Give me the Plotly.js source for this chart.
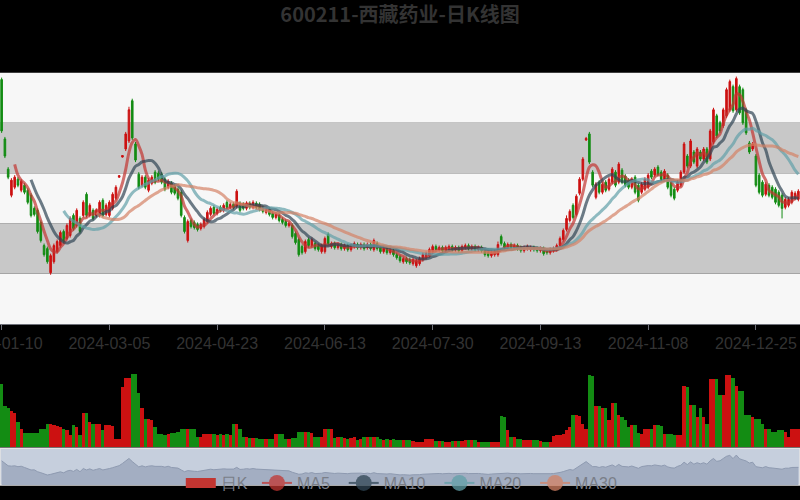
<!DOCTYPE html>
<html><head><meta charset="utf-8">
<script src="https://cdn.plot.ly/plotly-3.0.1.min.js"></script>
<style>html,body{margin:0;padding:0;background:#000;}#chart{width:800px;height:500px;}</style>
</head><body><div id="chart"></div>
<script>
const title = '600211-西藏药业-日K线图';
const tickLabels = ['2024-01-10','2024-03-05','2024-04-23','2024-06-13','2024-07-30','2024-09-13','2024-11-08','2024-12-25'];
const seriesNames = ['日K','MA5','MA10','MA20','MA30'];
const maDays = [5,10,20,30];

const open = [
34.3,28.4,25.4,22.8,23.6,24.4,23.3,23.8,23.3,22.8,
21.5,21.3,20.1,17.8,17.5,15.1,16.2,17.2,17.8,19.2,
18.5,18.8,20.8,19.8,20.5,20.8,22.9,20.8,21.3,20.8,
20.8,22.3,20.9,20.8,21.5,22.5,24.6,26.6,27.4,28.2,
32.2,27.9,24.9,23.8,24.6,23.3,24.0,25.1,25.0,24.9,
24.4,23.6,24.0,23.7,23.4,23.1,20.6,18.3,20.3,20.1,
19.9,19.5,19.7,20.2,20.9,21.6,21.0,21.6,21.3,22.1,
21.6,21.9,21.7,22.0,21.9,21.5,22.0,21.6,22.0,21.9,
21.6,21.1,21.4,21.0,20.6,20.8,20.4,20.2,19.8,19.8,
19.0,18.4,17.7,17.2,18.4,17.8,18.0,17.8,17.2,17.2,
18.9,17.7,18.0,17.6,17.9,17.5,17.8,17.4,17.7,17.9,
17.6,17.9,17.6,17.9,17.4,18.0,17.6,17.2,17.5,17.1,
17.3,16.9,16.7,16.2,16.5,16.4,16.0,15.8,16.0,16.4,
16.6,16.8,17.2,17.7,17.4,17.6,17.3,17.5,17.7,17.4,
17.6,17.3,17.6,17.8,17.5,17.7,17.4,17.6,17.3,17.1,
16.8,16.9,16.9,18.7,18.0,17.6,17.9,17.6,17.8,17.6,
17.3,17.5,17.4,17.6,17.5,17.3,17.5,17.3,17.1,17.3,
17.4,17.8,18.4,19.4,20.3,21.8,20.9,23.0,24.4,28.3,
28.9,25.1,22.6,24.1,23.1,24.1,23.4,24.1,25.1,24.1,
25.3,24.7,24.3,23.6,24.6,23.8,23.1,23.4,23.6,25.2,
24.8,25.6,25.1,24.4,24.8,24.1,23.4,23.3,23.8,25.1,
26.7,25.7,27.1,25.7,27.1,26.4,27.4,26.4,28.1,30.7,
30.0,29.7,30.7,31.3,33.6,31.3,33.6,33.3,31.3,28.0,
27.4,26.7,24.8,24.1,22.9,23.8,23.6,23.4,23.1,22.8,
21.6,21.8,22.1,22.5,22.4];

const close = [
29.2,26.7,24.6,24.3,24.6,23.8,24.2,23.1,22.1,20.8,
20.9,19.2,18.3,16.9,16.2,16.8,17.8,18.2,19.1,18.2,
19.8,20.5,19.5,21.3,19.2,22.1,20.8,21.8,20.5,21.3,
22.1,20.8,21.8,22.1,22.9,23.6,24.75,26.75,28.9,31.3,
28.5,26.3,23.6,24.6,23.6,24.3,24.6,24.1,24.4,24.1,
23.4,24.2,23.1,23.0,22.5,20.8,19.2,20.2,19.7,19.6,
19.4,19.9,20.4,21.1,21.5,21.0,21.4,21.3,21.8,21.6,
21.9,21.6,23.2,21.3,21.5,22.0,21.6,22.1,21.6,21.4,
21.2,21.4,20.9,20.6,20.9,20.3,20.1,19.8,20.0,18.7,
18.1,16.9,17.1,18.2,17.8,18.4,17.5,17.4,17.8,18.5,
18.0,18.0,17.6,17.9,17.5,17.8,17.4,17.8,18.0,17.6,
17.9,17.5,17.9,17.5,18.3,17.5,17.2,17.5,17.1,17.4,
16.9,16.6,16.3,16.5,16.2,16.1,16.4,16.3,16.5,16.9,
17.0,17.4,17.7,17.4,17.6,17.3,17.6,17.7,17.4,17.6,
17.3,17.7,17.8,17.5,17.7,17.4,17.6,17.3,16.9,16.8,
17.1,17.2,17.9,18.0,17.6,17.9,17.6,17.8,17.5,17.3,
17.6,17.7,17.6,17.4,17.3,17.5,17.0,17.1,17.4,17.5,
17.8,18.5,19.3,20.5,21.2,20.6,22.7,24.4,26.4,28.45,
26.1,23.8,23.9,23.1,23.9,23.3,24.4,25.4,23.8,25.9,
24.1,23.8,23.6,24.4,23.1,22.3,23.9,24.4,24.8,24.6,
25.4,24.9,24.4,25.2,23.6,22.8,22.5,24.1,25.1,27.9,
25.7,28.2,26.1,27.4,26.4,27.4,26.1,29.2,31.3,28.7,
29.2,31.3,33.3,34.1,31.2,34.4,31.0,30.0,29.0,27.1,
27.9,23.8,23.1,22.8,23.9,22.8,22.6,22.1,21.8,21.5,
22.4,22.4,23.1,23.0,23.2];

const high = [
34.5,28.6,25.6,24.5,24.8,24.6,24.4,24.0,23.5,23.0,
21.7,21.5,20.3,18.0,17.7,17.0,18.0,18.4,19.3,19.4,
20.0,20.7,21.0,21.5,20.7,22.3,23.1,22.0,21.5,21.5,
22.3,22.5,22.0,22.3,23.1,23.8,24.8,26.8,29.1,31.6,
32.4,28.1,25.1,24.8,24.8,24.5,24.8,25.3,25.2,25.1,
24.6,24.4,24.2,23.9,23.6,23.3,20.8,20.4,20.5,20.3,
20.1,20.1,20.6,21.3,21.7,21.8,21.6,21.8,22.0,22.3,
22.1,22.1,23.4,22.2,22.1,22.2,22.2,22.3,22.2,22.1,
21.8,21.6,21.6,21.2,21.1,21.0,20.6,20.4,20.2,20.0,
19.2,18.6,17.9,18.4,18.6,18.6,18.2,18.0,18.0,18.7,
19.1,18.2,18.2,18.1,18.1,18.0,18.0,18.0,18.2,18.1,
18.1,18.1,18.1,18.1,18.5,18.2,17.8,17.7,17.7,17.6,
17.5,17.1,16.9,16.7,16.7,16.6,16.6,16.5,16.7,17.1,
17.2,17.6,17.9,17.9,17.8,17.8,17.8,17.9,17.9,17.8,
17.8,17.9,18.0,18.0,17.9,17.9,17.8,17.8,17.5,17.3,
17.3,17.4,18.2,18.9,18.2,18.1,18.1,18.0,18.0,17.8,
17.8,17.9,17.8,17.8,17.7,17.7,17.7,17.5,17.6,17.7,
18.0,18.7,19.5,20.8,21.4,22.0,22.9,24.6,26.6,28.6,
29.1,25.3,24.1,24.3,24.1,24.3,24.6,25.6,25.3,26.1,
25.5,24.9,24.5,24.6,24.8,24.0,24.1,24.6,25.0,25.4,
25.6,25.8,25.3,25.4,25.0,24.3,23.6,24.3,25.3,28.1,
26.9,28.4,27.3,27.6,27.3,27.6,27.6,29.4,31.5,30.9,
30.2,31.5,33.5,34.3,33.8,34.6,33.8,33.5,31.5,28.2,
28.1,26.9,25.0,24.3,24.1,24.0,23.8,23.6,23.3,23.0,
22.6,22.6,23.3,23.2,23.4];

const low = [
29.0,26.5,24.4,22.6,23.4,23.6,23.1,22.9,21.9,20.6,
20.7,19.0,18.1,16.7,16.0,14.9,16.0,17.0,17.6,18.0,
18.3,18.6,19.3,19.6,19.0,20.6,20.6,20.6,20.3,20.6,
20.6,20.6,20.7,20.6,21.3,22.3,24.55,26.55,27.2,28.0,
28.3,26.1,23.4,23.6,23.4,23.1,23.8,23.9,24.2,23.9,
23.2,23.4,22.9,22.8,22.3,20.6,19.0,18.1,19.5,19.4,
19.2,19.3,19.5,20.0,20.7,20.8,20.8,21.1,21.1,21.4,
21.4,21.4,21.5,21.1,21.3,21.3,21.4,21.4,21.4,21.2,
21.0,20.9,20.7,20.4,20.4,20.1,19.9,19.6,19.6,18.5,
17.9,16.7,16.9,17.0,17.6,17.6,17.3,17.2,17.0,17.0,
17.8,17.5,17.4,17.4,17.3,17.3,17.2,17.2,17.5,17.4,
17.4,17.3,17.4,17.3,17.2,17.3,17.0,17.0,16.9,16.9,
16.7,16.4,16.1,16.0,16.0,15.9,15.8,15.6,15.8,16.2,
16.4,16.6,17.0,17.2,17.2,17.1,17.1,17.3,17.2,17.2,
17.1,17.1,17.4,17.3,17.3,17.2,17.2,17.1,16.7,16.6,
16.6,16.7,16.7,17.8,17.4,17.4,17.4,17.4,17.3,17.1,
17.1,17.3,17.2,17.2,17.1,17.1,16.8,16.9,16.9,17.1,
17.2,17.6,18.2,19.2,20.1,20.4,20.7,22.8,24.2,28.2,
25.9,23.6,22.4,22.9,22.9,23.1,23.2,23.9,23.6,23.9,
23.9,23.6,23.4,23.4,22.9,22.1,22.9,23.2,23.4,24.4,
24.6,24.7,24.2,24.2,23.4,22.6,22.3,23.1,23.6,24.9,
25.5,25.5,25.9,25.5,26.2,26.2,25.9,26.2,27.9,28.5,
29.0,29.5,30.5,31.1,31.0,31.1,30.8,29.8,28.8,26.9,
27.2,23.6,22.9,22.6,22.7,22.6,22.4,21.9,21.6,20.5,
21.4,21.6,21.9,22.3,22.2];

const volume = [
64,42,40,37,35,25,18,14,14,14,
14,14,18,18,23,23,22,21,20,18,
17,12,22,20,12,35,35,25,23,23,
23,17,22,22,21,8,8,61,70,70,
74,74,55,40,28,28,27,20,13,13,
12,13,14,14,15,18,18,18,18,18,
10,10,13,13,13,13,12,13,12,13,
12,23,23,18,10,10,9,9,9,8,
8,8,8,8,13,13,13,8,8,9,
9,15,15,15,15,14,10,10,10,18,
18,18,9,10,10,9,8,9,10,7,
8,10,10,10,10,10,8,7,8,7,
8,7,7,7,7,7,6,5,5,5,
8,8,8,6,6,6,5,5,6,6,
6,6,7,7,7,7,5,5,5,5,
5,5,5,31,30,17,10,10,8,8,
7,7,7,7,7,6,5,5,5,11,
12,12,13,17,20,32,32,31,23,18,
73,72,42,42,40,40,27,45,45,33,
30,27,20,22,22,14,13,18,18,18,
22,22,21,13,13,13,12,12,12,62,
61,43,43,30,40,30,23,69,69,69,
53,53,73,73,70,62,57,57,33,33,
30,28,28,23,18,18,15,15,17,17,
15,10,18,18,18];

const RED = '#cc1111', GREEN = '#138c13';
const maColors = ['#c23531','#2f4554','#61a0a8','#d48265'];
const N = close.length;
const xi = close.map((_, i) => i);
const tickStep = 33;
const tickVals = tickLabels.map((_, k) => k * tickStep);
const nb = '\u00a0';

function calcMA(n) {
  return close.map((_, i) => {
    if (i < n - 1) return null;
    let s = 0;
    for (let j = i - n + 1; j <= i; j++) s += close[j];
    return +(s / n).toFixed(3);
  });
}

const traces = [];
traces.push({
  type: 'candlestick', x: xi, open: open, high: high, low: low, close: close,
  xaxis: 'x', yaxis: 'y', showlegend: false, hoverinfo: 'skip', whiskerwidth: 0,
  increasing: {line: {color: RED, width: 1}, fillcolor: RED},
  decreasing: {line: {color: GREEN, width: 1}, fillcolor: GREEN}
});
maDays.forEach((n, k) => {
  traces.push({
    type: 'scatter', mode: 'lines', x: xi, y: calcMA(n), xaxis: 'x', yaxis: 'y',
    line: {color: maColors[k], width: 3, shape: 'spline', smoothing: 1},
    opacity: 0.7, showlegend: false, hoverinfo: 'skip'
  });
});
traces.push({
  type: 'bar', x: xi, y: volume, xaxis: 'x2', yaxis: 'y2', showlegend: false, hoverinfo: 'skip',
  marker: {color: close.map((c, i) => c >= open[i] ? RED : GREEN), line: {width: 0}}
});
traces.push({
  type: 'scatter', mode: 'lines', x: xi, y: close, xaxis: 'x3', yaxis: 'y3', fill: 'tozeroy',
  line: {color: '#8e9ab0', width: 1}, fillcolor: '#a3aec2', showlegend: false, hoverinfo: 'skip'
});
// legend entries
traces.push({type: 'scatter', mode: 'lines', x: [null], y: [null], name: seriesNames[0] + nb,
  line: {color: '#c23531', width: 10}, xaxis: 'x', yaxis: 'y'});
maDays.forEach((n, k) => {
  traces.push({type: 'scatter', mode: 'lines+markers', x: [null], y: [null], name: seriesNames[k + 1] + nb + nb,
    line: {color: maColors[k], width: 2}, marker: {color: maColors[k], size: 16, symbol: 'circle'},
    opacity: 0.75, xaxis: 'x', yaxis: 'y'});
});

const yMin = 10, yMax = 35, band = 5;
const shapes = [];
for (let v = yMin, k = 0; v < yMax; v += band, k++) {
  shapes.push({type: 'rect', xref: 'x domain', yref: 'y', x0: 0, x1: 1, y0: v, y1: v + band,
    fillcolor: k % 2 === 0 ? '#f7f7f7' : '#c8c8c8', line: {width: 0}, layer: 'below'});
}
shapes.push({type: 'rect', xref: 'x3 domain', yref: 'y3 domain', x0: 0, x1: 1, y0: 0, y1: 1,
  fillcolor: '#c6cfdd', line: {color: '#e4e4e4', width: 1.5}, layer: 'below'});

const xr = [-0.5, N - 0.5];
const layout = {
  width: 800, height: 500, autosize: false,
  paper_bgcolor: '#000', plot_bgcolor: 'rgba(0,0,0,0)',
  margin: {l: 0, r: 0, t: 0, b: 0, pad: 0},
  title: {text: title, x: 0.5, xanchor: 'center', xref: 'paper', y: 0.97, yanchor: 'middle', yref: 'container',
    font: {family: 'Noto Sans CJK SC, sans-serif', size: 20, color: '#333', weight: 'bold'}},
  xaxis: {domain: [0, 1], range: xr, tickvals: tickVals, ticktext: tickLabels, ticks: 'outside', ticklen: 5,
    tickcolor: '#6e7079', showline: true, linecolor: '#6e7079', showgrid: false, zeroline: false,
    rangeslider: {visible: false}, automargin: false, ticklabeloverflow: 'allow',
    tickfont: {family: 'Liberation Sans, Arial, sans-serif', size: 16, color: '#333'}, fixedrange: true},
  yaxis: {domain: [0.348, 0.854], range: [yMin, yMax], showticklabels: false, showgrid: false, zeroline: false, fixedrange: true},
  xaxis2: {domain: [0, 1], range: xr, anchor: 'y2', showticklabels: false, showgrid: false, zeroline: false, ticks: '', fixedrange: true},
  yaxis2: {domain: [0.1, 0.25], range: [0, 75], anchor: 'x2', showticklabels: false, showgrid: false, zeroline: false, fixedrange: true},
  xaxis3: {domain: [0, 1], range: xr, anchor: 'y3', showticklabels: false, showgrid: false, zeroline: false, ticks: '', fixedrange: true},
  yaxis3: {domain: [0.024, 0.098], range: [7, 40.6], anchor: 'x3', showticklabels: false, showgrid: false, zeroline: false, fixedrange: true},
  bargap: 0,
  shapes: shapes,
  showlegend: true,
  legend: {orientation: 'h', x: 0.226, xanchor: 'left', y: 0.028, yanchor: 'middle', bgcolor: 'rgba(0,0,0,0)',
    font: {family: 'Liberation Sans, Arial, sans-serif', size: 16, color: '#7a7e88'}, itemwidth: 30, traceorder: 'normal'}
};
Plotly.newPlot('chart', traces, layout, {displayModeBar: false, staticPlot: true});
</script></body></html>
